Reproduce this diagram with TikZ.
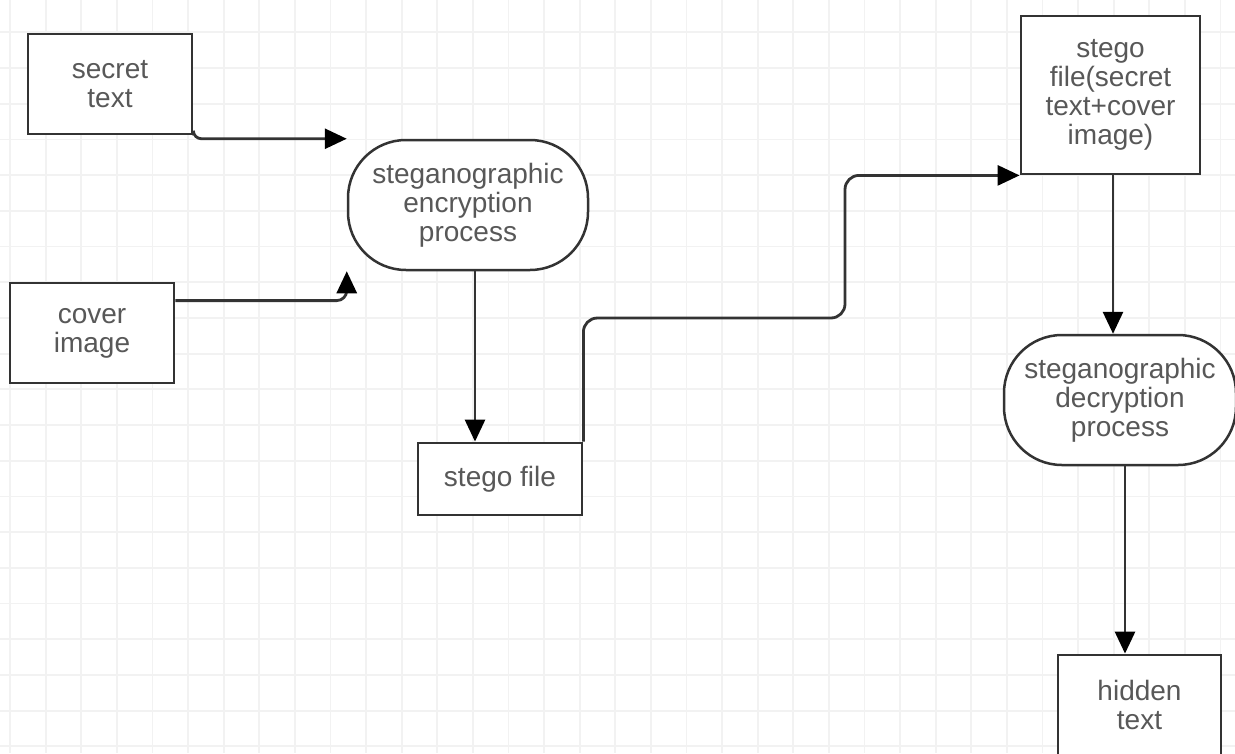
\documentclass[tikz,border=0pt]{standalone}
\usepackage{fontspec}
\setmainfont{Liberation Sans}
\usetikzlibrary{arrows.meta}
\definecolor{gridc}{HTML}{F2F2F2}
\definecolor{linec}{HTML}{333333}
\definecolor{textc}{HTML}{585858}
\begin{document}
\begin{tikzpicture}[x=1pt,y=-1pt,
  every node/.style={font=\fontsize{28}{29}\selectfont, text=textc, align=center, inner sep=0pt},
  box/.style={draw=linec, line width=2.8pt, fill=white},
  stadium/.style={draw=linec, line width=2.5pt, fill=white, rounded corners=58pt},
  arr/.style={draw=linec, line width=2.8pt, -{Triangle[length=22pt,width=20pt,color=black]}},
  gridline/.style={draw=gridc, line width=1.8pt}]
  % canvas and background grid
  \fill[white] (0,0) rectangle (1235,753);
  \useasboundingbox (0,0) rectangle (1235,753);
  \foreach \i in {0,...,34} \draw[gridline] ({10+35.6*\i},0) -- ++(0,753);
  \foreach \j in {0,...,21} \draw[gridline] (0,{-3.4+35.7*\j}) -- ++(1235,0);

  % nodes
  \node[box, minimum width=164pt, minimum height=100pt] (secret) at (110,84) {secret\\text};
  \node[box, minimum width=164pt, minimum height=100pt] (cover) at (92,333) {cover\\image};
  \node[stadium, minimum width=240pt, minimum height=130pt] (enc) at (468,205) {steganographic\\encryption\\process};
  \node[box, minimum width=164pt, minimum height=72pt] (stegof) at (500,479) {stego file};
  \node[box, minimum width=179pt, minimum height=158pt] (sfull) at (1110.5,95) {stego\\file(secret\\text+cover\\image)};
  \node[stadium, minimum width=232pt, minimum height=130pt] (dec) at (1120,400) {steganographic\\decryption\\process};
  \node[box, minimum width=163pt, minimum height=100pt] (hidden) at (1139.5,705) {hidden\\text};

  \coordinate (step) at (845,318);

  % connectors
  \draw[arr, rounded corners=8pt] (secret.south east) |- (enc.north west);
  \draw[arr, rounded corners=10pt] ([yshift=-19pt]cover.north east) -| (enc.south west);
  \draw[arr] ([xshift=7pt]enc.south) -- ([xshift=-25pt]stegof.north);
  \draw[arr, rounded corners=14pt] (stegof.north east) |- (step) |- (sfull.south west);
  \draw[arr] ([xshift=2.5pt]sfull.south) -- ([xshift=-7pt]dec.north);
  \draw[arr] ([xshift=5pt]dec.south) -- ([xshift=-14.5pt]hidden.north);
\end{tikzpicture}
\end{document}
